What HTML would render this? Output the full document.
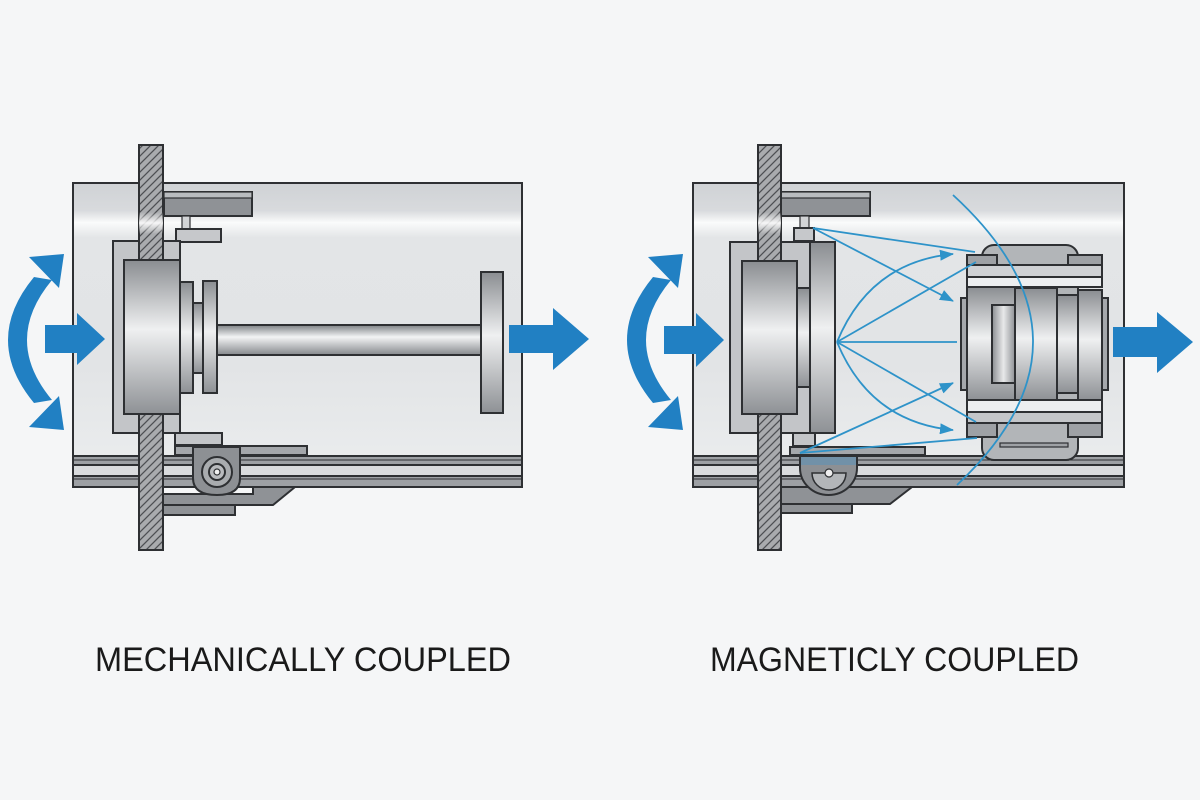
<!DOCTYPE html>
<html><head><meta charset="utf-8"><style>
html,body{margin:0;padding:0;background:#f5f6f7;}
svg{display:block;}
</style></head><body>
<svg width="1200" height="800" viewBox="0 0 1200 800" xmlns="http://www.w3.org/2000/svg">
<defs>
<linearGradient id="house" x1="0" y1="183" x2="0" y2="487" gradientUnits="userSpaceOnUse">
<stop offset="0" stop-color="#cfd2d5"/><stop offset="0.09" stop-color="#d8dadd"/>
<stop offset="0.13" stop-color="#fafbfb"/><stop offset="0.18" stop-color="#e3e5e7"/>
<stop offset="0.6" stop-color="#e2e4e6"/><stop offset="1" stop-color="#eceeef"/>
</linearGradient>
<linearGradient id="metal" x1="0" y1="0" x2="0" y2="1">
<stop offset="0" stop-color="#8a8d91"/><stop offset="0.45" stop-color="#eff0f1"/><stop offset="1" stop-color="#8e9195"/>
</linearGradient>
<linearGradient id="metalh" x1="0" y1="0" x2="1" y2="0">
<stop offset="0" stop-color="#8a8d91"/><stop offset="0.5" stop-color="#e8e9ea"/><stop offset="1" stop-color="#8e9195"/>
</linearGradient>
<linearGradient id="shaft" x1="0" y1="0" x2="0" y2="1">
<stop offset="0" stop-color="#7d8185"/><stop offset="0.4" stop-color="#f3f4f5"/><stop offset="1" stop-color="#85888c"/>
</linearGradient>
<linearGradient id="glare" x1="0" y1="0" x2="0" y2="1">
<stop offset="0" stop-color="#fff" stop-opacity="0"/><stop offset="0.5" stop-color="#fff" stop-opacity="0.9"/><stop offset="1" stop-color="#fff" stop-opacity="0"/>
</linearGradient>
<pattern id="hatch" patternUnits="userSpaceOnUse" width="8" height="8">
<rect width="8" height="8" fill="#a9abae"/>
<path d="M-2,2 L2,-2 M0,8 L8,0 M6,10 L10,6" stroke="#4d4f53" stroke-width="1.3"/>
</pattern>
<marker id="ah" viewBox="0 0 14 11" refX="13" refY="5.5" markerWidth="14" markerHeight="11" markerUnits="userSpaceOnUse" orient="auto">
<path d="M0,0 L14,5.5 L0,11 Z" fill="#2e93c9"/>
</marker>
</defs>

<!-- ================= LEFT PANEL ================= -->
<g stroke="#2e3033" stroke-width="2">
<rect x="73" y="183" width="449" height="304" fill="url(#house)"/>
<rect x="73" y="456" width="449" height="9" fill="#9da0a4"/>
<rect x="73" y="465" width="449" height="11" fill="#d9dbdd"/>
<rect x="73" y="476" width="449" height="11" fill="#9da0a4"/>
<line x1="73" y1="460" x2="522" y2="460" stroke-width="1"/>
<line x1="73" y1="479" x2="522" y2="479" stroke-width="1"/>
<rect x="164" y="192" width="88" height="24" fill="#8f9296"/>
<rect x="164" y="192" width="88" height="6" fill="#b9bcbf" stroke-width="1.2"/>
<rect x="182" y="216" width="8" height="13" fill="#d2d4d6" stroke-width="1.2"/>
<rect x="176" y="229" width="45" height="13" fill="#c6c8cb"/>
<rect x="113" y="241" width="67" height="192" fill="#c3c5c8"/>
<rect x="175" y="433" width="47" height="12" fill="#c3c5c8"/>
<rect x="175" y="446" width="132" height="9" fill="#a4a7ab"/>
<polygon points="163,494 253,494 253,487 295,487 273,505 163,505" fill="#8f9296"/>
<rect x="163" y="505" width="72" height="10" fill="#8f9296"/>
<rect x="139" y="145" width="24" height="405" fill="url(#hatch)"/>
<rect x="124" y="260" width="56" height="154" fill="url(#metal)"/>
<rect x="180" y="282" width="13" height="111" fill="url(#metal)"/>
<rect x="193" y="303" width="10" height="70" fill="url(#metal)"/>
<rect x="203" y="281" width="14" height="112" fill="url(#metal)"/>
<rect x="217" y="325" width="265" height="30" fill="url(#shaft)"/>
<rect x="481" y="272" width="22" height="141" fill="url(#metal)"/>
<path d="M193,447 L240,447 L240,478 Q240,495 217,495 Q193,495 193,478 Z" fill="#8d9094"/>
<circle cx="217" cy="472" r="15" fill="#a9acaf"/>
<circle cx="217" cy="472" r="8" fill="#b9bbbe"/>
<circle cx="217" cy="472" r="3" fill="#f0f0f0" stroke-width="1.2"/>
</g>
<rect x="139" y="212" width="24" height="22" fill="url(#glare)"/>
<g fill="#2180c3">
<path d="M34,277 Q-18,340 34,403 L52,400 Q2,340 52,280 Z"/>
<polygon points="29,257 64,254 59,288"/>
<polygon points="29,427 64,430 59,396"/>
<rect x="45" y="325" width="33" height="28"/>
<polygon points="77,313 105,339 77,365"/>
<rect x="509" y="325" width="45" height="28"/>
<polygon points="553,308 589,339 553,370"/>
</g>

<!-- ================= RIGHT PANEL ================= -->
<g stroke="#2e3033" stroke-width="2">
<rect x="693" y="183" width="431" height="304" fill="url(#house)"/>
<rect x="693" y="456" width="431" height="9" fill="#9da0a4"/>
<rect x="693" y="465" width="431" height="11" fill="#d9dbdd"/>
<rect x="693" y="476" width="431" height="11" fill="#9da0a4"/>
<line x1="693" y1="460" x2="1124" y2="460" stroke-width="1"/>
<line x1="693" y1="479" x2="1124" y2="479" stroke-width="1"/>
<rect x="781" y="192" width="89" height="24" fill="#8f9296"/>
<rect x="781" y="192" width="89" height="6" fill="#b9bcbf" stroke-width="1.2"/>
<rect x="800" y="216" width="9" height="12" fill="#d2d4d6" stroke-width="1.2"/>
<rect x="794" y="228" width="20" height="13" fill="#c6c8cb"/>
<rect x="730" y="242" width="80" height="191" fill="#c3c5c8"/>
<rect x="793" y="433" width="22" height="13" fill="#c3c5c8"/>
<rect x="790" y="447" width="135" height="8" fill="#a4a7ab"/>
<polygon points="780,487 912,487 890,504 780,504" fill="#8f9296"/>
<rect x="780" y="504" width="72" height="9" fill="#8f9296"/>
<rect x="758" y="145" width="23" height="405" fill="url(#hatch)"/>
<rect x="742" y="261" width="55" height="153" fill="url(#metal)"/>
<rect x="797" y="288" width="13" height="99" fill="url(#metal)"/>
<rect x="810" y="242" width="25" height="191" fill="url(#metal)"/>
<path d="M800,456 L857,456 L857,468 A28.5,27 0 0 1 800,468 Z" fill="#8d9094"/>
<path d="M812,473 A17,17 0 0 0 846,473 Z" fill="#b3b6b9" stroke-width="1.5"/>
<circle cx="829" cy="473" r="4" fill="#eee" stroke-width="1.2"/>
<rect x="982" y="245" width="96" height="215" rx="12" fill="#b2b5b8"/>
<rect x="967" y="265" width="135" height="12" fill="#cfd1d4"/>
<rect x="967" y="255" width="30" height="10" fill="#9ea1a5"/>
<rect x="1068" y="255" width="34" height="10" fill="#9ea1a5"/>
<rect x="967" y="277" width="135" height="10" fill="#eceef0"/>
<rect x="967" y="400" width="135" height="12" fill="#eceef0"/>
<rect x="967" y="412" width="135" height="11" fill="#c4c6c9"/>
<rect x="967" y="423" width="30" height="14" fill="#9ea1a5"/>
<rect x="1068" y="423" width="34" height="14" fill="#9ea1a5"/>
<rect x="1000" y="443" width="68" height="4" fill="#9ea1a5" stroke-width="1.2"/>
<rect x="961" y="298" width="6" height="92" fill="#a5a8ac"/>
<rect x="1102" y="298" width="6" height="92" fill="#a5a8ac"/>
<rect x="967" y="287" width="48" height="113" fill="url(#metal)"/>
<rect x="992" y="305" width="23" height="78" fill="url(#metalh)"/>
<rect x="1015" y="288" width="42" height="112" fill="url(#metal)"/>
<rect x="1057" y="295" width="21" height="98" fill="url(#metal)"/>
<rect x="1078" y="290" width="24" height="110" fill="url(#metal)"/>
</g>
<rect x="758" y="212" width="23" height="22" fill="url(#glare)"/>
<rect x="801" y="457" width="55" height="8" fill="#4f93c0" opacity="0.45"/>
<g fill="none" stroke="#2e93c9" stroke-width="1.8">
<path d="M953,195 Q1111,340 957,485"/>
<path d="M813,228 L975,252"/>
<path d="M813,228 L953,301" marker-end="url(#ah)"/>
<path d="M837,342 Q870,262 953,254" marker-end="url(#ah)"/>
<path d="M837,342 L976,262"/>
<path d="M837,342 L957,342"/>
<path d="M837,342 L976,422"/>
<path d="M837,342 Q870,422 953,430" marker-end="url(#ah)"/>
<path d="M800,453 L953,383" marker-end="url(#ah)"/>
<path d="M800,453 L977,438"/>
</g>
<g fill="#2180c3">
<g transform="translate(619,0)">
<path d="M34,277 Q-18,340 34,403 L52,400 Q2,340 52,280 Z"/>
<polygon points="29,257 64,254 59,288"/>
<polygon points="29,427 64,430 59,396"/>
<rect x="45" y="326" width="33" height="28"/>
<polygon points="77,313 105,340 77,367"/>
</g>
<rect x="1113" y="327" width="45" height="30"/>
<polygon points="1157,312 1193,342 1157,373"/>
</g>

<g font-family="'Liberation Sans', Arial, sans-serif" font-size="34" fill="#1a1a1a">
<text x="95" y="671" textLength="416" lengthAdjust="spacingAndGlyphs">MECHANICALLY COUPLED</text>
<text x="710" y="671" textLength="369" lengthAdjust="spacingAndGlyphs">MAGNETICLY COUPLED</text>
</g>
</svg>
</body></html>
